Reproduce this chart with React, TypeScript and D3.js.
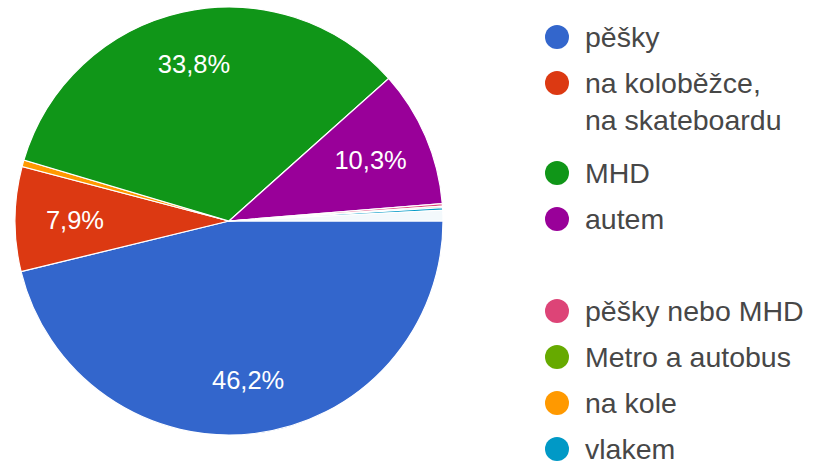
import React from 'react';
import * as d3 from 'd3';

// slices in drawing order (clockwise from 3 o'clock)
const sliceNames = ['pěšky', 'na koloběžce, na skateboardu', 'na kole', 'MHD', 'autem', 'pěšky nebo MHD', 'Metro a autobus', 'vlakem', 'jiné'];
const sliceValues = [46.2, 7.9, 0.5, 33.8, 10.3, 0.2, 0.1, 0.2, 0.8];
const sliceColors = ['#3366cc', '#dc3912', '#ff9900', '#109618', '#990099', '#dd4477', '#66aa00', '#0099c6', '#f3f9fc'];

// legend rows, as in the picture (one empty row)
const legendLines = [['pěšky'], ['na koloběžce,', 'na skateboardu'], ['MHD'], ['autem'], [], ['pěšky nebo MHD'], ['Metro a autobus'], ['na kole'], ['vlakem']];
const legendColors = ['#3366cc', '#dc3912', '#109618', '#990099', null, '#dd4477', '#66aa00', '#ff9900', '#0099c6'];

const W = 821, H = 466;
const cx = 229, cy = 221, R = 214;
const fmt = (v: number) => v.toFixed(1).replace('.', ',') + '%';

export default function App() {
  const data = sliceValues.map((v, i) => ({ name: sliceNames[i], value: v, color: sliceColors[i] }));
  const pie = d3.pie<any>()
    .value(d => d.value)
    .sort(null)
    .startAngle(Math.PI / 2)
    .endAngle(Math.PI / 2 + 2 * Math.PI);
  const arcs = pie(data);
  const arc = d3.arc<any>().innerRadius(0).outerRadius(R);
  // narrower slices get their label pulled a little toward the centre
  const labelR = (a: any) => (a.endAngle - a.startAngle < 0.8 ? 0.72 : 0.75) * R;

  // legend y positions
  let y = 37;
  const rows = legendLines.map((lines, i) => {
    const row = { lines, color: legendColors[i], y };
    y += 46 + 44 * Math.max(0, lines.length - 1);
    return row;
  });

  const font = '"Liberation Sans", Arial, sans-serif';

  return (
    <svg width={W} height={H} style={{ position: 'absolute', left: 0, top: 0, background: '#fff' }}>
      <g transform={`translate(${cx},${cy})`}>
        {arcs.map((a, i) => (
          <path key={i} d={arc(a) as string} fill={a.data.color} stroke="#fff" strokeWidth={1.2} />
        ))}
        {arcs.filter(a => a.data.value >= 5).map((a, i) => {
          const r = labelR(a);
          const [x, yy] = d3.arc<any>().innerRadius(r).outerRadius(r).centroid(a);
          return (
            <text key={i} x={x} y={yy} fill="#fff" fontFamily={font} fontSize={25.5}
                  textAnchor="middle" dominantBaseline="central">{fmt(a.data.value)}</text>
          );
        })}
      </g>
      <g fontFamily={font} fontSize={28.5} fill="#474747">
        {rows.map((r, i) => r.color && (
          <g key={i}>
            <circle cx={557} cy={r.y} r={12} fill={r.color} />
            {r.lines.map((l, j) => (
              <text key={j} x={585} y={r.y + j * 37} dominantBaseline="central">{l}</text>
            ))}
          </g>
        ))}
      </g>
    </svg>
  );
}
